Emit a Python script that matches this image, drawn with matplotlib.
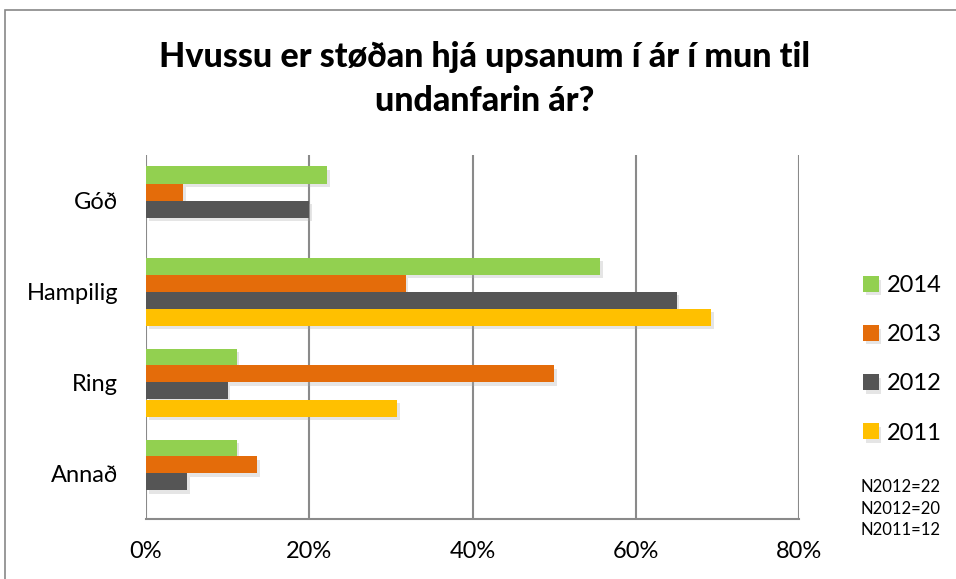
import matplotlib
matplotlib.use("Agg")
import matplotlib.pyplot as plt
import matplotlib.patheffects as pe
import numpy as np

categories = ["Góð", "Hampilig", "Ring", "Annað"]
years = ["2014", "2013", "2012", "2011"]
v2014 = [22.2, 55.6, 11.1, 11.1]
v2013 = [4.5, 31.8, 50.0, 13.6]
v2012 = [20.0, 65.0, 10.0, 5.0]
v2011 = [0.0, 69.2, 30.8, 0.0]
series = [v2014, v2013, v2012, v2011]
colors = ["#92D050", "#E46C0A", "#555555", "#FFC000"]
xticks = [0, 20, 40, 60, 80]
xticklabels = ["0%", "20%", "40%", "60%", "80%"]
notes = ["N2012=22", "N2012=20", "N2011=12"]
title = "Hvussu er støðan hjá upsanum í ár í mun til\nundanfarin ár?"

plt.rcParams['font.family'] = ['Lato', 'DejaVu Sans']

W, H = 956, 579
fig = plt.figure(figsize=(W / 100, H / 100), dpi=100)

# chart border (clipped at right/bottom like the reference)
fig.patches.append(plt.Rectangle((5 / W, -0.05), 1.2, 1 - 10 / H + 0.05,
                                 transform=fig.transFigure, fill=False,
                                 edgecolor="#888888", linewidth=1.2))

ax = fig.add_axes([146 / W, 1 - 519 / H, (799 - 146) / W, (519 - 155) / H])

n = len(categories)
centers = np.arange(n)[::-1]
h = 17 / 91
offsets = [1.5 * h, 0.5 * h, -0.5 * h, -1.5 * h]
shadow = [pe.SimplePatchShadow(offset=(2, -2.5), shadow_rgbFace="#aaaaaa", alpha=0.3), pe.Normal()]
for vals, col, off, yr in zip(series, colors, offsets, years):
    bars = ax.barh(centers + off, vals, height=h, color=col, label=yr, zorder=3)
    for b in bars:
        b.set_path_effects(shadow)

ax.set_xlim(0, 80)
ax.set_ylim(-0.5, n - 0.5)
ax.set_xticks(xticks)
ax.set_xticklabels(xticklabels, fontsize=17)
ax.set_yticks(centers)
ax.set_yticklabels(categories, fontsize=17)
ax.tick_params(axis="y", length=0, pad=20)
ax.tick_params(axis="x", length=0, pad=16)
for x in xticks:
    ax.axvline(x, color="#8a8a8a", linewidth=1.5, zorder=1)
for s in ["top", "right", "left"]:
    ax.spines[s].set_visible(False)
ax.spines["bottom"].set_color("#8a8a8a")
ax.spines["bottom"].set_linewidth(1.5)

fig.text(485 / W, 1 - 79 / H, title, ha="center", va="center", fontsize=24.5,
         fontweight="black", linespacing=1.45)

handles, labels = ax.get_legend_handles_labels()
leg = fig.legend(handles, labels, loc="upper left", bbox_to_anchor=(842 / W, 1 - 254 / H),
                 frameon=False, fontsize=17, handlelength=0.65, handleheight=0.65,
                 handletextpad=0.35, labelspacing=1.19)

for i, t in enumerate(notes):
    fig.text(860 / W, 1 - (487 + 21.5 * i) / H, t, ha="left", va="center", fontsize=12)

fig.savefig("out.png", dpi=100)
